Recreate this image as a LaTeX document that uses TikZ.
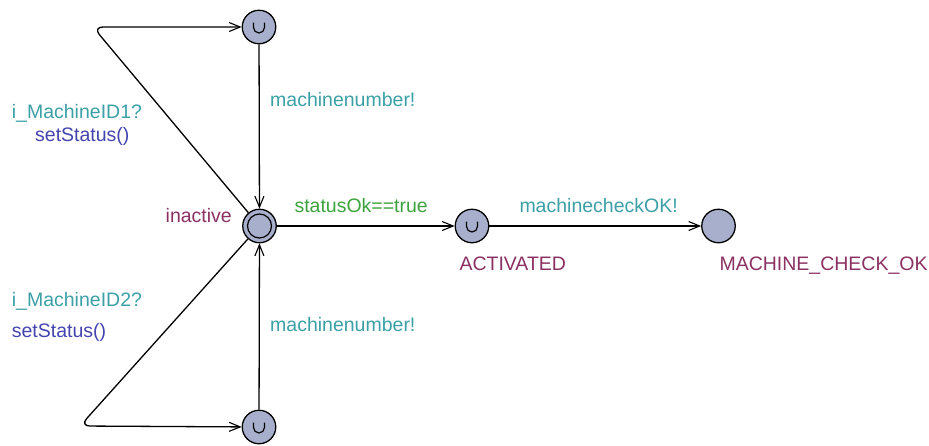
\documentclass[tikz,border=0pt]{standalone}
\usepackage{fontspec}
\setmainfont{Liberation Sans}
\usetikzlibrary{arrows.meta}
\definecolor{locfill}{RGB}{168,175,204}
\definecolor{synccol}{RGB}{58,160,166}
\definecolor{guardcol}{RGB}{61,163,61}
\definecolor{updcol}{RGB}{68,68,176}
\definecolor{namecol}{RGB}{139,48,98}
\begin{document}
\begin{tikzpicture}[x=1pt,y=-1pt,
  loc/.style={circle,draw=black,fill=locfill,line width=1.3pt,minimum size=33.5pt,inner sep=0pt},
  edge/.style={line width=1.3pt,-{Straight Barb[length=11pt,width=9pt,line width=1.1pt]}},
  lbl/.style={anchor=base west,inner sep=0pt,font=\fontsize{19.5}{23}\selectfont},
  sync/.style={lbl,text=synccol},
  guard/.style={lbl,text=guardcol},
  upd/.style={lbl,text=updcol},
  lname/.style={lbl,text=namecol},
  cup/.style={line width=1.2pt}]
\useasboundingbox (0,0) rectangle (929,445);

% locations
\node[loc] (t) at (259,27) {};
\node[loc] (i) at (259.5,226) {};
\node[loc] (b) at (259,427) {};
\node[loc] (a) at (472,226) {};
\node[loc] (m) at (718.5,226) {};
\draw[line width=1.2pt] (i.center) circle[radius=12pt];

% urgent marks
\foreach \n in {t,b,a}{
  \draw[cup] ([shift={(-5.5pt,4.5pt)}]\n.center) -- ++(0,-5pt)
    arc[start angle=180,end angle=360,radius=5.5pt] -- ++(0,5pt);
}

% nails of the looping edges
\coordinate (k1) at (93,27);
\coordinate (k2) at (80,426);

% edges
\draw[edge] (t) -- (i);
\draw[edge] (b) -- (i);
\draw[edge] (i) -- (a);
\draw[edge] (a) -- (m);
\draw[edge,rounded corners=10pt] (i) -- (k1) -- (t);
\draw[edge,rounded corners=10pt] (i) -- (k2) -- (b);

% labels
\node[sync]  (l1) at (270,106.7) {machinenumber!};
\node[sync]  (l2) at (11.7,118.3) {i\_MachineID1?};
\node[upd]   (l3) at (35,141.7) {setStatus()};
\node[lname] (l4) at (165.5,222.7) {inactive};
\node[guard] (l5) at (294.3,212.7) {statusOk==true};
\node[sync]  (l6) at (519.3,212.7) {machinecheckOK!};
\node[lname] (l7) at (459.3,270.7) {ACTIVATED};
\node[lname] (l8) at (719.3,270.7) {MACHINE\_CHECK\_OK};
\node[sync]  (l9) at (11.7,306.7) {i\_MachineID2?};
\node[upd]   (l10) at (11.7,337.3) {setStatus()};
\node[sync]  (l11) at (270,331.7) {machinenumber!};
\end{tikzpicture}
\end{document}
